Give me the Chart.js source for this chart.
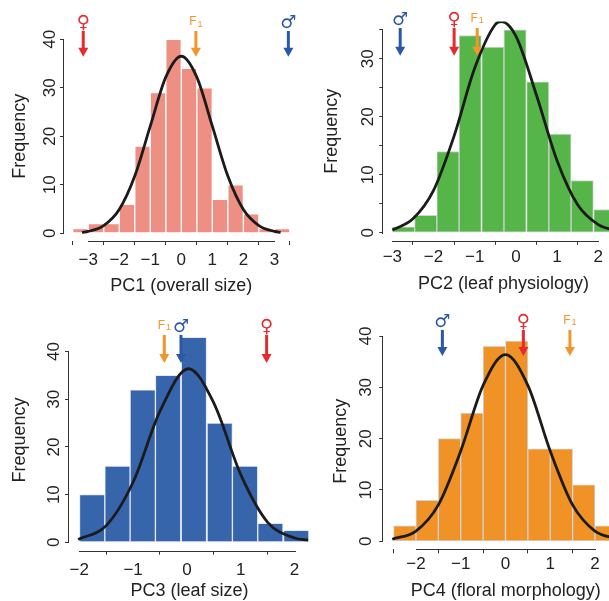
<!DOCTYPE html>
<html>
<head>
<meta charset="utf-8">
<title>PC histograms</title>
<script src="https://cdn.jsdelivr.net/npm/chart.js@4.4.1/dist/chart.umd.min.js"></script>
<style>
  html, body { margin: 0; padding: 0; background: #fff; }
  #wrap { position: relative; width: 609px; height: 601px; overflow: hidden; background: #fff; }
  #wrap canvas { position: absolute; }
</style>
</head>
<body>
<div id="wrap">
  <canvas id="pc1" width="305" height="300" style="left:0px;top:0px"></canvas>
  <canvas id="pc2" width="345" height="300" style="left:305px;top:0px"></canvas>
  <canvas id="pc3" width="325" height="301" style="left:0px;top:300px"></canvas>
  <canvas id="pc4" width="345" height="301" style="left:305px;top:300px"></canvas>
</div>
<script>
// === Data ===

// PC1 (overall size), bins of 0.5
const pc1Centers = [-3.25, -2.75, -2.25, -1.75, -1.25, -0.75, -0.25, 0.25, 0.75, 1.25, 1.75, 2.25, 2.75, 3.25];
const pc1Counts = [1, 2, 2, 6, 18, 29, 40, 34, 30, 7, 10, 4, 1, 1];
const pc1CurveX = [-3.2, -3, -2.5, -2, -1.5, -1, -0.5, 0, 0.5, 1, 1.5, 2, 2.5, 3, 3.2];
const pc1CurveY = [0.2, 0.4, 1.6, 4.9, 11.8, 22.1, 32.2, 36.5, 32.2, 22.1, 11.8, 4.9, 1.6, 0.4, 0.2];
const pc1XTicks = [-3, -2, -1, 0, 1, 2, 3];
const pc1YTicks = [0, 10, 20, 30, 40];
const pc1YLabels = [0, 10, 20, 30, 40];
const pc1Parents = [-3.16, 0.47, 3.45]; // female, F1, male

// PC2 (leaf physiology)
const pc2Centers = [-2.73, -2.19, -1.65, -1.11, -0.56, -0.02, 0.53, 1.07, 1.61, 2.16];
const pc2Counts = [1, 3, 14, 34, 32, 35, 26, 17, 9, 4];
const pc2CurveX = [-3, -2.5, -2, -1.5, -1, -0.5, -0.35, 0, 0.5, 1, 1.5, 2, 2.5, 2.8];
const pc2CurveY = [0.45, 2.4, 7.3, 16.7, 28.4, 35.9, 36.4, 33.9, 23.7, 12.4, 4.8, 1.4, 0.35, 0.12];
const pc2XTicks = [-3, -2, -1, 0, 1, 2];
const pc2YTicks = [0, 5, 10, 15, 20, 25, 30, 35];
const pc2YLabels = [0, 10, 20, 30];
const pc2Parents = [-1.5, -0.94, -2.81];

// PC3 (leaf size)
const pc3Centers = [-1.76, -1.29, -0.82, -0.35, 0.13, 0.61, 1.08, 1.55, 2.03];
const pc3Counts = [10, 16, 32, 35, 43, 25, 16, 4, 2.5];
const pc3CurveX = [-2.02, -1.5, -1, -0.5, 0.03, 0.5, 1, 1.5, 2, 2.25];
const pc3CurveY = [0.6, 3.5, 12.6, 27.5, 36.4, 29.2, 14.2, 4.2, 0.9, 0.45];
const pc3XTicks = [-2, -1, 0, 1, 2];
const pc3YTicks = [0, 10, 20, 30, 40];
const pc3YLabels = [0, 10, 20, 30, 40];
const pc3Parents = [1.48, -0.42, -0.11];

// PC4 (floral morphology)
const pc4Centers = [-2.25, -1.75, -1.25, -0.75, -0.25, 0.25, 0.75, 1.25, 1.75, 2.25];
const pc4Counts = [3, 8, 20, 25, 38, 39, 18, 18, 11, 3];
const pc4CurveX = [-2.53, -2, -1.5, -1, -0.5, 0, 0.5, 1, 1.5, 2, 2.5];
const pc4CurveY = [0.4, 2.0, 7.1, 17.6, 30.4, 36.4, 30.4, 17.6, 7.1, 2.0, 0.5];
const pc4XTicks = [-2, -1, 0, 1, 2];
const pc4YTicks = [0, 10, 20, 30, 40];
const pc4YLabels = [0, 10, 20, 30, 40];
const pc4Parents = [0.4, 1.44, -1.41];

// === Styles ===

const TEXT = "#222";
const AXIS = "#333";
const TICK_SIZE = 17;
const TITLE_SIZE = 18;
const PARENT_COLORS = ["#E52A30", "#F2952A", "#2B58A6"];

Chart.defaults.font.family = '"Liberation Sans", Arial, sans-serif';

const fmt = v => (v < 0 ? "\u2212" + (-v) : String(v));

// R-style axes (line only between first and last tick), rotated y labels, parent arrows
const rAxes = {
  id: "rAxes",
  afterDraw(chart, args, opts) {
    const { ctx, chartArea } = chart;
    const x = chart.scales.x;
    const y = chart.scales.y;
    const xs = x.ticks.map(t => Math.round(x.getPixelForValue(t.value)));
    const ys = y.ticks.map(t => Math.round(y.getPixelForValue(t.value)));
    ctx.save();

    // axis lines, flush with the library's tick marks
    ctx.fillStyle = AXIS;
    const bottom = Math.round(chartArea.bottom);
    const left = Math.round(chartArea.left);
    ctx.fillRect(Math.min(...xs), bottom, Math.max(...xs) - Math.min(...xs) + 1, 1);
    ctx.fillRect(left - 1, Math.min(...ys), 1, Math.max(...ys) - Math.min(...ys) + 1);

    ctx.fillStyle = TEXT;
    ctx.font = TICK_SIZE + 'px "Liberation Sans"';
    ctx.textAlign = "center";
    ctx.textBaseline = "alphabetic";
    opts.yLabels.forEach(v => {
      ctx.save();
      ctx.translate(chartArea.left - opts.labelGap + 0.358 * TICK_SIZE, y.getPixelForValue(v));
      ctx.rotate(-Math.PI / 2);
      ctx.fillText(fmt(v), 0, 0);
      ctx.restore();
    });

    // arrows: female, F1, male
    const top = y.getPixelForValue(opts.arrow[0]);
    const tip = y.getPixelForValue(opts.arrow[1]);
    opts.parents.forEach((v, i) => {
      const px = x.getPixelForValue(v);
      const color = PARENT_COLORS[i];
      ctx.strokeStyle = color;
      ctx.fillStyle = color;
      ctx.lineWidth = 3;
      ctx.beginPath();
      ctx.moveTo(px, top);
      ctx.lineTo(px, tip - 8);
      ctx.stroke();
      ctx.beginPath();
      ctx.moveTo(px - 5, tip - 9);
      ctx.lineTo(px + 5, tip - 9);
      ctx.lineTo(px, tip);
      ctx.closePath();
      ctx.fill();

      ctx.textBaseline = "alphabetic";
      if (i === 1) {
        ctx.font = '12px "Liberation Sans"';
        const wF = ctx.measureText("F").width;
        ctx.font = '9px "Liberation Sans"';
        const w1 = ctx.measureText("1").width;
        const x0 = px - (wF + w1 + 1) / 2;
        ctx.textAlign = "left";
        ctx.font = '12px "Liberation Sans"';
        ctx.fillText("F", x0, top - 6);
        ctx.font = '9px "Liberation Sans"';
        ctx.fillText("1", x0 + wF + 1, top - 4.5);
      } else {
        ctx.textAlign = "center";
        ctx.font = 'bold 18px "DejaVu Sans"';
        ctx.fillText(i === 0 ? "\u2640" : "\u2642", px, top - 3);
      }
    });
    ctx.restore();
  }
};

// === Panels ===

const panels = [
  { id: "pc1", title: "PC1 (overall size)", color: "#EE8F84", edge: "#ffffff",
    centers: pc1Centers, counts: pc1Counts, curveX: pc1CurveX, curveY: pc1CurveY,
    xTicks: pc1XTicks, yTicks: pc1YTicks, yLabels: pc1YLabels, parents: pc1Parents,
    w: 305, h: 300, area: [64, 31.5, 298.6, 241.1], xRange: [-3.78, 3.78], yRange: [-1.6, 41.6],
    tickPad: 4.7, xTitleMid: 285.9, yTitleMid: 19.8, labelGap: 14.8, arrow: [41.7, 36.4] },
  { id: "pc2", title: "PC2 (leaf physiology)", color: "#55B548", edge: "#d2d2d2",
    centers: pc2Centers, counts: pc2Counts, curveX: pc2CurveX, curveY: pc2CurveY,
    xTicks: pc2XTicks, yTicks: pc2YTicks, yLabels: pc2YLabels, parents: pc2Parents,
    w: 345, h: 300, area: [78.3, 21.6, 318.8, 240.8], xRange: [-3.22, 2.62], yRange: [-1.4, 36.4],
    tickPad: 2.5, xTitleMid: 283.9, yTitleMid: 27.4, labelGap: 16.8, arrow: [35.3, 30.5] },
  { id: "pc3", title: "PC3 (leaf size)", color: "#3765AC", edge: "#e2e8f3",
    centers: pc3Centers, counts: pc3Counts, curveX: pc3CurveX, curveY: pc3CurveY,
    xTicks: pc3XTicks, yTicks: pc3YTicks, yLabels: pc3YLabels, parents: pc3Parents,
    w: 325, h: 301, area: [69, 29.2, 310, 250.7], xRange: [-2.19, 2.286], yRange: [-1.76, 44.7],
    tickPad: 5.9, xTitleMid: 291.4, yTitleMid: 20.4, labelGap: 16, arrow: [43.5, 37.6] },
  { id: "pc4", title: "PC4 (floral morphology)", color: "#F09226", edge: "#d2d2d2",
    centers: pc4Centers, counts: pc4Counts, curveX: pc4CurveX, curveY: pc4CurveY,
    xTicks: pc4XTicks, yTicks: pc4YTicks, yLabels: pc4YLabels, parents: pc4Parents,
    w: 345, h: 301, area: [78.3, 33.2, 323.1, 249.3], xRange: [-2.73, 2.74], yRange: [-1.56, 40.56],
    tickPad: 0.6, xTitleMid: 290.9, yTitleMid: 36, labelGap: 18, arrow: [41.2, 36.1] }
];

function makePanel(p) {
  const half = TITLE_SIZE * 1.2 / 2;
  const tickGrid = { display: true, drawOnChartArea: false, drawTicks: true, tickLength: 4, color: AXIS, lineWidth: 1 };
  return new Chart(document.getElementById(p.id), {
    type: "bar",
    data: {
      datasets: [
        {
          type: "line",
          data: p.curveX.map((v, i) => ({ x: v, y: p.curveY[i] })),
          borderColor: "#1b1b1b",
          borderWidth: 2.8,
          pointRadius: 0,
          cubicInterpolationMode: "monotone",
          fill: false,
          order: 0
        },
        {
          data: p.centers.map((v, i) => ({ x: v, y: p.counts[i] })),
          backgroundColor: p.color,
          borderColor: p.edge,
          borderWidth: 1,
          borderSkipped: false,
          barPercentage: 1,
          categoryPercentage: 1,
          order: 1
        }
      ]
    },
    options: {
      responsive: false,
      animation: false,
      events: [],
      layout: { padding: { left: 0, top: p.area[1], right: p.w - p.area[2], bottom: 0 } },
      plugins: {
        legend: { display: false },
        tooltip: { enabled: false },
        rAxes: { yLabels: p.yLabels, labelGap: p.labelGap, parents: p.parents, arrow: p.arrow }
      },
      scales: {
        x: {
          type: "linear",
          min: p.xRange[0],
          max: p.xRange[1],
          offset: false,
          afterBuildTicks: s => { s.ticks = p.xTicks.map(v => ({ value: v })); },
          afterFit: s => { s.height = p.h - p.area[3]; },
          grid: tickGrid,
          border: { display: false },
          ticks: { autoSkip: false, maxRotation: 0, padding: p.tickPad, color: TEXT,
                   font: { size: TICK_SIZE }, callback: v => fmt(v) },
          title: { display: true, text: p.title, color: TEXT, font: { size: TITLE_SIZE },
                   padding: { top: 0, bottom: p.h - p.xTitleMid - half } }
        },
        y: {
          type: "linear",
          min: p.yRange[0],
          max: p.yRange[1],
          afterBuildTicks: s => { s.ticks = p.yTicks.map(v => ({ value: v })); },
          afterFit: s => { s.width = p.area[0]; },
          grid: tickGrid,
          border: { display: false },
          ticks: { display: false },
          title: { display: true, text: "Frequency", color: TEXT, font: { size: TITLE_SIZE },
                   padding: { top: p.yTitleMid - half, bottom: 0 } }
        }
      }
    },
    plugins: [rAxes]
  });
}

document.addEventListener("DOMContentLoaded", () => {
  panels.forEach(makePanel);
});
</script>
</body>
</html>
